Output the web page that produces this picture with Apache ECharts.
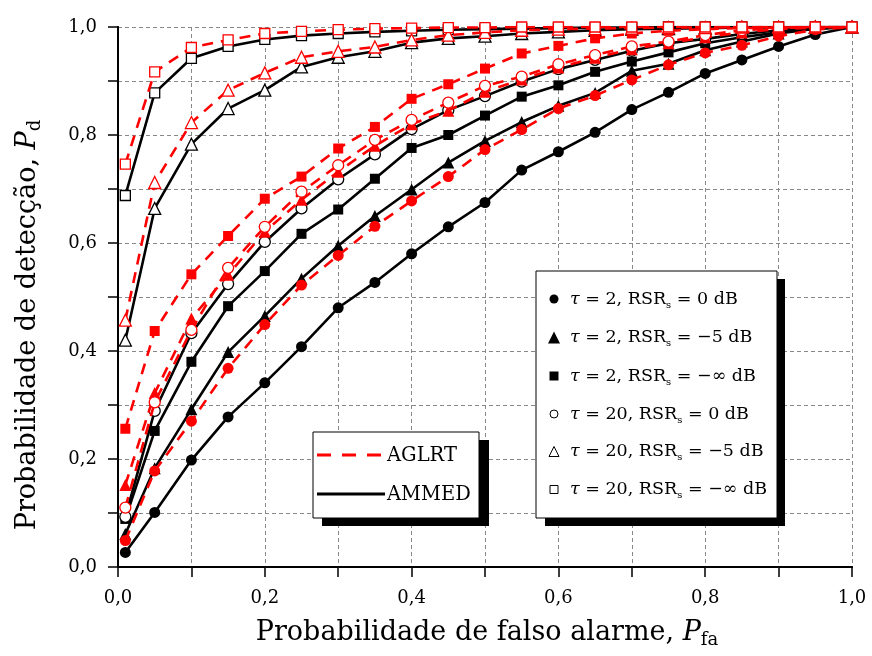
<!DOCTYPE html>
<html>
<head>
<meta charset="utf-8">
<script src="https://cdn.jsdelivr.net/npm/echarts@6/dist/echarts.min.js"></script>
<style>
html,body{margin:0;padding:0;background:#fff;}
#chart{width:872px;height:656px;}
</style>
</head>
<body>
<div id="chart"></div>
<script>
// ---- Data ----
var pfa = [0.01,0.05,0.10,0.15,0.20,0.25,0.30,0.35,0.40,0.45,0.50,0.55,0.60,0.65,0.70,0.75,0.80,0.85,0.90,0.95,1.00];
var xTicks = ['0,0','0,2','0,4','0,6','0,8','1,0'];
var yTicks = ['0,0','0,2','0,4','0,6','0,8','1,0'];

// AMMED (black, solid)
var ammed_t2_0    = [0.027,0.101,0.198,0.278,0.341,0.408,0.480,0.527,0.580,0.630,0.675,0.735,0.769,0.805,0.847,0.879,0.914,0.939,0.964,0.986,1.000];
var ammed_t2_m5   = [0.061,0.183,0.292,0.398,0.465,0.534,0.595,0.650,0.699,0.749,0.789,0.824,0.854,0.878,0.919,0.932,0.957,0.973,0.988,0.997,1.000];
var ammed_t2_inf  = [0.089,0.252,0.380,0.483,0.548,0.617,0.662,0.719,0.776,0.800,0.836,0.871,0.892,0.917,0.936,0.953,0.970,0.981,0.990,0.997,1.000];
var ammed_t20_0   = [0.093,0.289,0.433,0.524,0.602,0.664,0.718,0.764,0.811,0.846,0.872,0.899,0.922,0.939,0.956,0.970,0.978,0.987,0.994,0.998,1.000];
var ammed_t20_m5  = [0.420,0.664,0.783,0.849,0.883,0.926,0.944,0.955,0.971,0.979,0.983,0.988,0.991,0.994,0.996,0.997,0.998,0.999,0.999,1.000,1.000];
var ammed_t20_inf = [0.688,0.878,0.942,0.964,0.977,0.984,0.988,0.991,0.993,0.995,0.996,0.997,0.998,0.999,0.999,1.000,1.000,1.000,1.000,1.000,1.000];

// AGLRT (red, dashed)
var aglrt_t2_0    = [0.049,0.178,0.270,0.368,0.449,0.522,0.577,0.631,0.678,0.723,0.773,0.810,0.849,0.873,0.902,0.930,0.952,0.966,0.983,0.995,1.000];
var aglrt_t2_m5   = [0.152,0.322,0.460,0.541,0.621,0.680,0.732,0.780,0.820,0.845,0.880,0.903,0.925,0.943,0.959,0.970,0.981,0.990,0.996,0.999,1.000];
var aglrt_t2_inf  = [0.256,0.437,0.542,0.613,0.682,0.723,0.775,0.815,0.867,0.894,0.923,0.951,0.965,0.979,0.988,0.993,0.996,0.998,0.999,1.000,1.000];
var aglrt_t20_0   = [0.110,0.305,0.439,0.554,0.630,0.695,0.744,0.791,0.828,0.860,0.891,0.908,0.931,0.948,0.964,0.973,0.985,0.994,0.998,1.000,1.000];
var aglrt_t20_m5  = [0.457,0.712,0.823,0.883,0.915,0.944,0.955,0.963,0.976,0.985,0.990,0.994,0.996,0.997,0.998,0.999,0.999,1.000,1.000,1.000,1.000];
var aglrt_t20_inf = [0.746,0.917,0.962,0.976,0.988,0.992,0.995,0.997,0.998,0.999,0.999,1.000,1.000,1.000,1.000,1.000,1.000,1.000,1.000,1.000,1.000];

var legendLines = ['AGLRT','AMMED'];
var legendRows = [
  '{t|τ} = 2, RSR{s|s} = 0 dB',
  '{t|τ} = 2, RSR{s|s} = −5 dB',
  '{t|τ} = 2, RSR{s|s} = −∞ dB',
  '{t|τ} = 20, RSR{s|s} = 0 dB',
  '{t|τ} = 20, RSR{s|s} = −5 dB',
  '{t|τ} = 20, RSR{s|s} = −∞ dB'
];

// ---- Build ----
var FONT = 'DejaVu Serif';
function pts(ys){ return pfa.map(function(x,i){ return [x, ys[i]]; }); }
function mk(name, ys, color, dashed, symbol, filled, size){
  return {
    name: name, type: 'line', data: pts(ys),
    symbol: symbol, symbolSize: size,
    showAllSymbol: true,
    lineStyle: { color: color, width: 2.6, type: dashed ? [11, 8] : 'solid' },
    itemStyle: { color: filled ? color : '#fff', borderColor: color, borderWidth: filled ? 0 : 1.3 },
    emphasis: { disabled: true },
    silent: true, animation: false, z: dashed ? 3 : 2
  };
}
var BLK = '#000', RED = '#ff0000';
var series = [
  mk('b1', ammed_t2_0,    BLK, false, 'circle',   true, 11),
  mk('b2', ammed_t2_m5,   BLK, false, 'triangle', true, 12),
  mk('b3', ammed_t2_inf,  BLK, false, 'rect',     true, 10),
  mk('b4', ammed_t20_0,   BLK, false, 'circle',   false, 11),
  mk('b5', ammed_t20_m5,  BLK, false, 'triangle', false, 12),
  mk('b6', ammed_t20_inf, BLK, false, 'rect',     false, 10),
  mk('r1', aglrt_t2_0,    RED, true,  'circle',   true, 11),
  mk('r2', aglrt_t2_m5,   RED, true,  'triangle', true, 12),
  mk('r3', aglrt_t2_inf,  RED, true,  'rect',     true, 10),
  mk('r4', aglrt_t20_0,   RED, true,  'circle',   false, 11),
  mk('r5', aglrt_t20_m5,  RED, true,  'triangle', false, 12),
  mk('r6', aglrt_t20_inf, RED, true,  'rect',     false, 10)
];

function lbl(arr){ return function(v){ var k = Math.round(v*10); return (k % 2 === 0) ? arr[k/2] : ''; }; }

var gridL = 118, gridT = 27, gridW = 734, gridH = 540;
var graphic = [];
// axis titles
graphic.push({
  type: 'text', x: 487, y: 633, z: 10,
  style: { text: 'Probabilidade de falso alarme, {i|P}{s|fa}', font: '27px "' + FONT + '"', fill: '#000',
    align: 'center', verticalAlign: 'middle',
    rich: { i: { fontStyle: 'italic', fontSize: 27, fontFamily: FONT }, s: { fontSize: 18, fontFamily: FONT, padding: [14,0,0,0] } } }
});
graphic.push({
  type: 'text', x: 28, y: 325, rotation: Math.PI/2, z: 10,
  style: { text: 'Probabilidade de detecção, {i|P}{s|d}', font: '27px "' + FONT + '"', fill: '#000',
    align: 'center', verticalAlign: 'middle',
    rich: { i: { fontStyle: 'italic', fontSize: 27, fontFamily: FONT }, s: { fontSize: 18, fontFamily: FONT, padding: [14,0,0,0] } } }
});
// legend 1
graphic.push({ type:'rect', shape:{x:322,y:440,width:167,height:86}, style:{fill:'#000'}, z:20 });
graphic.push({ type:'rect', shape:{x:313,y:432,width:166,height:86}, style:{fill:'#fff', stroke:'#000', lineWidth:1}, z:21 });
graphic.push({ type:'line', shape:{x1:317,y1:455,x2:385,y2:455}, style:{stroke:RED, lineWidth:3, lineDash:[14,11]}, z:22 });
graphic.push({ type:'line', shape:{x1:317,y1:494,x2:385,y2:494}, style:{stroke:BLK, lineWidth:3}, z:22 });
graphic.push({ type:'text', x:387, y:456, z:22, style:{ text: legendLines[0], font:'19.5px "' + FONT + '"', fill:'#000', verticalAlign:'middle' } });
graphic.push({ type:'text', x:387, y:495, z:22, style:{ text: legendLines[1], font:'19.5px "' + FONT + '"', fill:'#000', verticalAlign:'middle' } });
// legend 2
graphic.push({ type:'rect', shape:{x:545,y:279,width:240,height:247}, style:{fill:'#000'}, z:20 });
graphic.push({ type:'rect', shape:{x:536,y:271,width:241,height:247}, style:{fill:'#fff', stroke:'#000', lineWidth:1}, z:21 });
var rowY = [299, 337.5, 376, 414, 451.5, 489.5];
var mx = 554;
for (var i = 0; i < 6; i++) {
  var y = rowY[i];
  var filled = i < 3;
  var st = filled ? { fill:'#000' } : { fill:'#fff', stroke:'#000', lineWidth:1 };
  var kind = i % 3;
  if (kind === 0) graphic.push({ type:'circle', shape:{cx:mx, cy:y, r: filled ? 4.5 : 4}, style: st, z:22 });
  else if (kind === 1) graphic.push({ type:'polygon', shape:{points: filled ? [[mx-6,y+6],[mx+6,y+6],[mx,y-6]] : [[mx-5,y+5],[mx+5,y+5],[mx,y-5]]}, style: st, z:22 });
  else graphic.push({ type:'rect', shape: filled ? {x:mx-4.5,y:y-4.5,width:9,height:9} : {x:mx-4,y:y-4,width:8,height:8}, style: st, z:22 });
  graphic.push({ type:'text', x:570, y:y, z:22, style:{ text: legendRows[i], font:'17.5px "' + FONT + '"', fill:'#000', verticalAlign:'middle',
    rich: { t: { fontStyle:'italic', fontSize:17.5, fontFamily: FONT }, s: { fontSize:10, fontFamily: FONT, padding:[12,0,0,0] } } } });
}

var axisCommon = {
  type: 'value', min: 0, max: 1, interval: 0.1,
  axisLine: { show: true, lineStyle: { color: '#000', width: 2 } },
  splitLine: { show: false }
};

var option = {
  animation: false,
  backgroundColor: '#fff',
  grid: { left: gridL, top: gridT, width: gridW, height: gridH, containLabel: false },
  xAxis: [
    Object.assign({}, axisCommon, {
      position: 'bottom',
      axisTick: { show: true, inside: false, length: 10, lineStyle: { color: '#000', width: 1.5 } },
      axisLabel: { formatter: lbl(xTicks), margin: 22, color: '#000', fontFamily: FONT, fontSize: 18 },
      splitLine: { show: true, lineStyle: { color: '#888', width: 1, type: [4, 3] } }
    }),
    Object.assign({}, axisCommon, {
      position: 'top',
      axisTick: { show: true, inside: true, length: 8, lineStyle: { color: '#000', width: 1.5 } },
      axisLabel: { show: false }
    })
  ],
  yAxis: [
    Object.assign({}, axisCommon, {
      position: 'left',
      axisTick: { show: true, inside: false, length: 10, lineStyle: { color: '#000', width: 1.5 } },
      axisLabel: { formatter: lbl(yTicks), margin: 21, color: '#000', fontFamily: FONT, fontSize: 18 },
      splitLine: { show: true, lineStyle: { color: '#888', width: 1, type: [4, 3] } }
    }),
    Object.assign({}, axisCommon, {
      position: 'right',
      axisTick: { show: true, inside: true, length: 8, lineStyle: { color: '#000', width: 1.5 } },
      axisLabel: { show: false }
    })
  ],
  series: series,
  graphic: graphic
};

var chart = echarts.init(document.getElementById('chart'), null, { renderer: 'canvas' });
chart.setOption(option);
</script>
</body>
</html>
